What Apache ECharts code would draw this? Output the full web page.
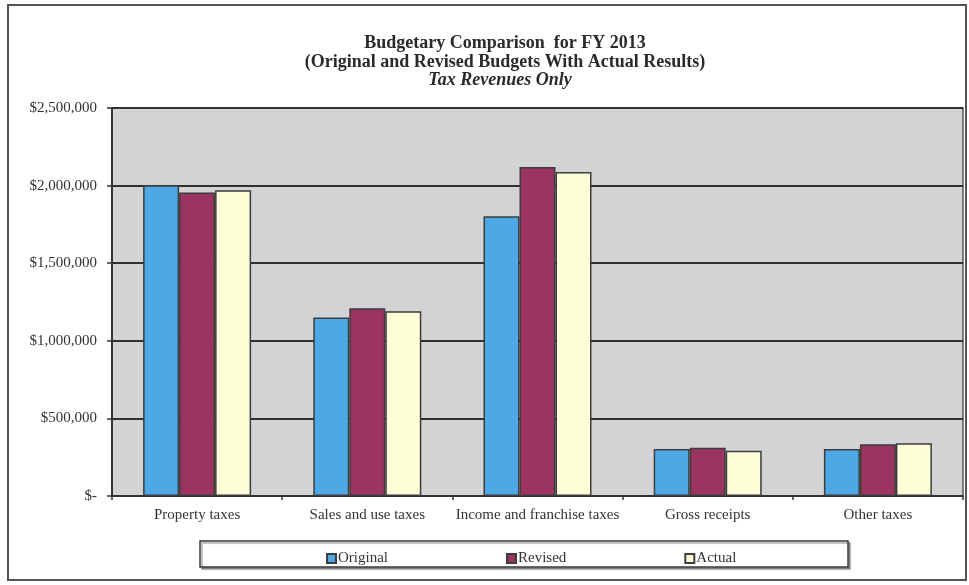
<!DOCTYPE html>
<html>
<head>
<meta charset="utf-8">
<script src="https://cdn.jsdelivr.net/npm/echarts@6/dist/echarts.min.js"></script>
<style>
  html, body { margin: 0; padding: 0; background: #ffffff; }
  #chart { width: 969px; height: 585px; }
</style>
</head>
<body>
<div id="chart"></div>
<script>
// Tax revenue categories and budget figures (dollars)
const categories = ['Property taxes', 'Sales and use taxes', 'Income and franchise taxes', 'Gross receipts', 'Other taxes'];
const originalBudget = [2003000, 1150000, 1802000, 303000, 303000];
const revisedBudget = [1955000, 1210000, 2120000, 311000, 333000];
const actualResults = [1970000, 1190000, 2088000, 292000, 340000];
const seriesNames = ['Original', 'Revised', 'Actual'];
const yTicks = { min: 0, max: 2500000, step: 500000 };

const serif = '"Liberation Serif", "DejaVu Serif", serif';
const colors = ['#4ea8e6', '#9c3462', '#fefed8'];

function money(v) {
  if (v === 0) return '$-';
  return '$' + v.toLocaleString('en-US');
}

const chart = echarts.init(document.getElementById('chart'), null, { renderer: 'canvas' });

function barSeries(name, data, color) {
  return {
    name: name,
    type: 'bar',
    data: data,
    barWidth: 36,
    barGap: '0%',
    itemStyle: { color: color, borderColor: '#3d3d3d', borderWidth: 1.5 }
  };
}

chart.setOption({
  animation: false,
  backgroundColor: '#ffffff',
  title: [
    {
      text: 'Budgetary Comparison  for FY 2013',
      left: 500, top: 29, textAlign: 'center',
      textStyle: { fontFamily: serif, fontWeight: 'bold', fontSize: 18, color: '#2a2a2a' }
    },
    {
      text: '(Original and Revised Budgets With Actual Results)',
      left: 500, top: 48, textAlign: 'center',
      textStyle: { fontFamily: serif, fontWeight: 'bold', fontSize: 18, color: '#2a2a2a' }
    },
    {
      text: 'Tax Revenues Only',
      left: 495, top: 66, textAlign: 'center',
      textStyle: { fontFamily: serif, fontWeight: 'bold', fontStyle: 'italic', fontSize: 18, color: '#2a2a2a' }
    }
  ],
  graphic: [
    {
      type: 'rect',
      shape: { x: 8, y: 5, width: 958, height: 575 },
      style: { fill: 'none', stroke: '#555', lineWidth: 2 },
      z: 100
    },
    {
      type: 'rect',
      shape: { x: 200, y: 541, width: 648, height: 26 },
      style: { fill: '#ffffff', stroke: '#3a3a3a', lineWidth: 1.5, shadowColor: 'rgba(0,0,0,0.35)', shadowOffsetX: 2, shadowOffsetY: 2, shadowBlur: 1 },
      z: 0
    }
  ],
  legend: {
    data: seriesNames,
    left: 321, top: 546,
    itemWidth: 9, itemHeight: 9,
    itemGap: 118,
    icon: 'rect',
    textStyle: { fontFamily: serif, fontSize: 15, color: '#333', padding: [0, 0, 0, -3] },
    z: 10
  },
  grid: {
    left: 112, right: 6, top: 108, bottom: 89,
    show: true,
    backgroundColor: '#d3d3d5',
    borderColor: '#555',
    borderWidth: 1.5
  },
  xAxis: {
    type: 'category',
    data: categories,
    axisLine: { lineStyle: { color: '#333', width: 2 } },
    axisTick: { show: true, interval: 0, length: 4, lineStyle: { color: '#333', width: 1.5 } },
    axisLabel: { interval: 0, fontFamily: serif, fontSize: 15, color: '#333', margin: 12 }
  },
  yAxis: {
    type: 'value',
    min: yTicks.min, max: yTicks.max, interval: yTicks.step,
    axisLine: { show: true, lineStyle: { color: '#333', width: 2 } },
    axisTick: { show: true, length: 5, lineStyle: { color: '#333', width: 1.5 } },
    splitLine: { show: true, lineStyle: { color: '#303030', width: 2 } },
    axisLabel: { fontFamily: serif, fontSize: 15, color: '#333', margin: 15, formatter: money }
  },
  series: [
    barSeries(seriesNames[0], originalBudget, colors[0]),
    barSeries(seriesNames[1], revisedBudget, colors[1]),
    barSeries(seriesNames[2], actualResults, colors[2])
  ]
});
</script>
</body>
</html>
